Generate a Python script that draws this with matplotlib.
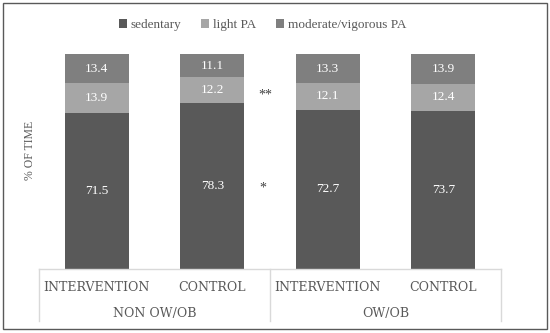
import numpy as np
import matplotlib
matplotlib.use("Agg")
import matplotlib.pyplot as plt
from matplotlib.patches import Rectangle
from matplotlib.lines import Line2D

# data
groups = ["INTERVENTION", "CONTROL", "INTERVENTION", "CONTROL"]
supergroups = ["NON OW/OB", "OW/OB"]
sedentary = [71.5, 78.3, 72.7, 73.7]
light_pa = [13.9, 12.2, 12.1, 12.4]
mvpa = [13.4, 11.1, 13.3, 13.9]
series_names = ["sedentary", "light PA", "moderate/vigorous PA"]
colors = ["#595959", "#a6a6a6", "#7f7f7f"]

plt.rcParams["font.family"] = ["Liberation Serif", "DejaVu Serif"]

W, H = 550, 333
fig = plt.figure(figsize=(W / 100, H / 100), dpi=100)
ax = fig.add_axes([39 / W, 1 - 269 / H, 462 / W, 215 / H])

x = np.arange(len(groups))
vals = np.array([sedentary, light_pa, mvpa])
totals = vals.sum(axis=0)
fracs = vals / totals
bottom = np.zeros(len(groups))
for i, name in enumerate(series_names):
    ax.bar(x, fracs[i], 0.554, bottom=bottom, color=colors[i], label=name)
    for xi, b, f, v in zip(x, bottom, fracs[i], vals[i]):
        ax.text(xi, b + f / 2, f"{v:.1f}", ha="center", va="center",
                color="white", fontsize=9.5)
    bottom += fracs[i]

ax.set_xlim(-0.5, 3.5)
ax.set_ylim(0, 1)
ax.set_xticks([])
ax.set_yticks([])
for s in ax.spines.values():
    s.set_visible(False)

# significance marks next to CONTROL (non ow/ob)
ax.text(1.46, fracs[0][1] + fracs[1][1] / 2 - 0.022, "**", ha="center", va="center",
        fontsize=10, color="#404040")
ax.text(1.44, fracs[0][1] / 2 - 0.01, "*", ha="center", va="center",
        fontsize=10, color="#404040")

fig.text(30 / W, 1 - 150 / H, "% OF TIME", rotation=90, ha="center", va="center",
         fontsize=8.5, color="#595959")

# category box under the bars
lc = "#d9d9d9"
fig.add_artist(Line2D([39 / W, 501 / W], [1 - 269 / H] * 2, color=lc, lw=1))
for px in (39, 270, 501):
    fig.add_artist(Line2D([px / W] * 2, [1 - 269 / H, 1 - 321 / H], color=lc, lw=1))
for xi, g in zip(x, groups):
    ax.text(xi, -0.085, g, ha="center", va="center", fontsize=9,
            family="DejaVu Serif", color="#595959", clip_on=False)
for j, sg in enumerate(supergroups):
    ax.text(0.5 + 2 * j, -0.205, sg, ha="center", va="center", fontsize=9,
            family="DejaVu Serif", color="#595959", clip_on=False)

fig.legend(loc="center", bbox_to_anchor=(0.478, 1 - 25 / H), ncol=3, frameon=False,
           fontsize=9.5, handlelength=0.6, handleheight=0.6, handletextpad=0.3,
           columnspacing=1.5, labelcolor="#595959")

fig.add_artist(Rectangle((3 / W, 4 / H), 544 / W, 326 / H, transform=fig.transFigure,
                         fill=False, edgecolor="#595959", lw=1))

fig.savefig("out.png", dpi=100)
